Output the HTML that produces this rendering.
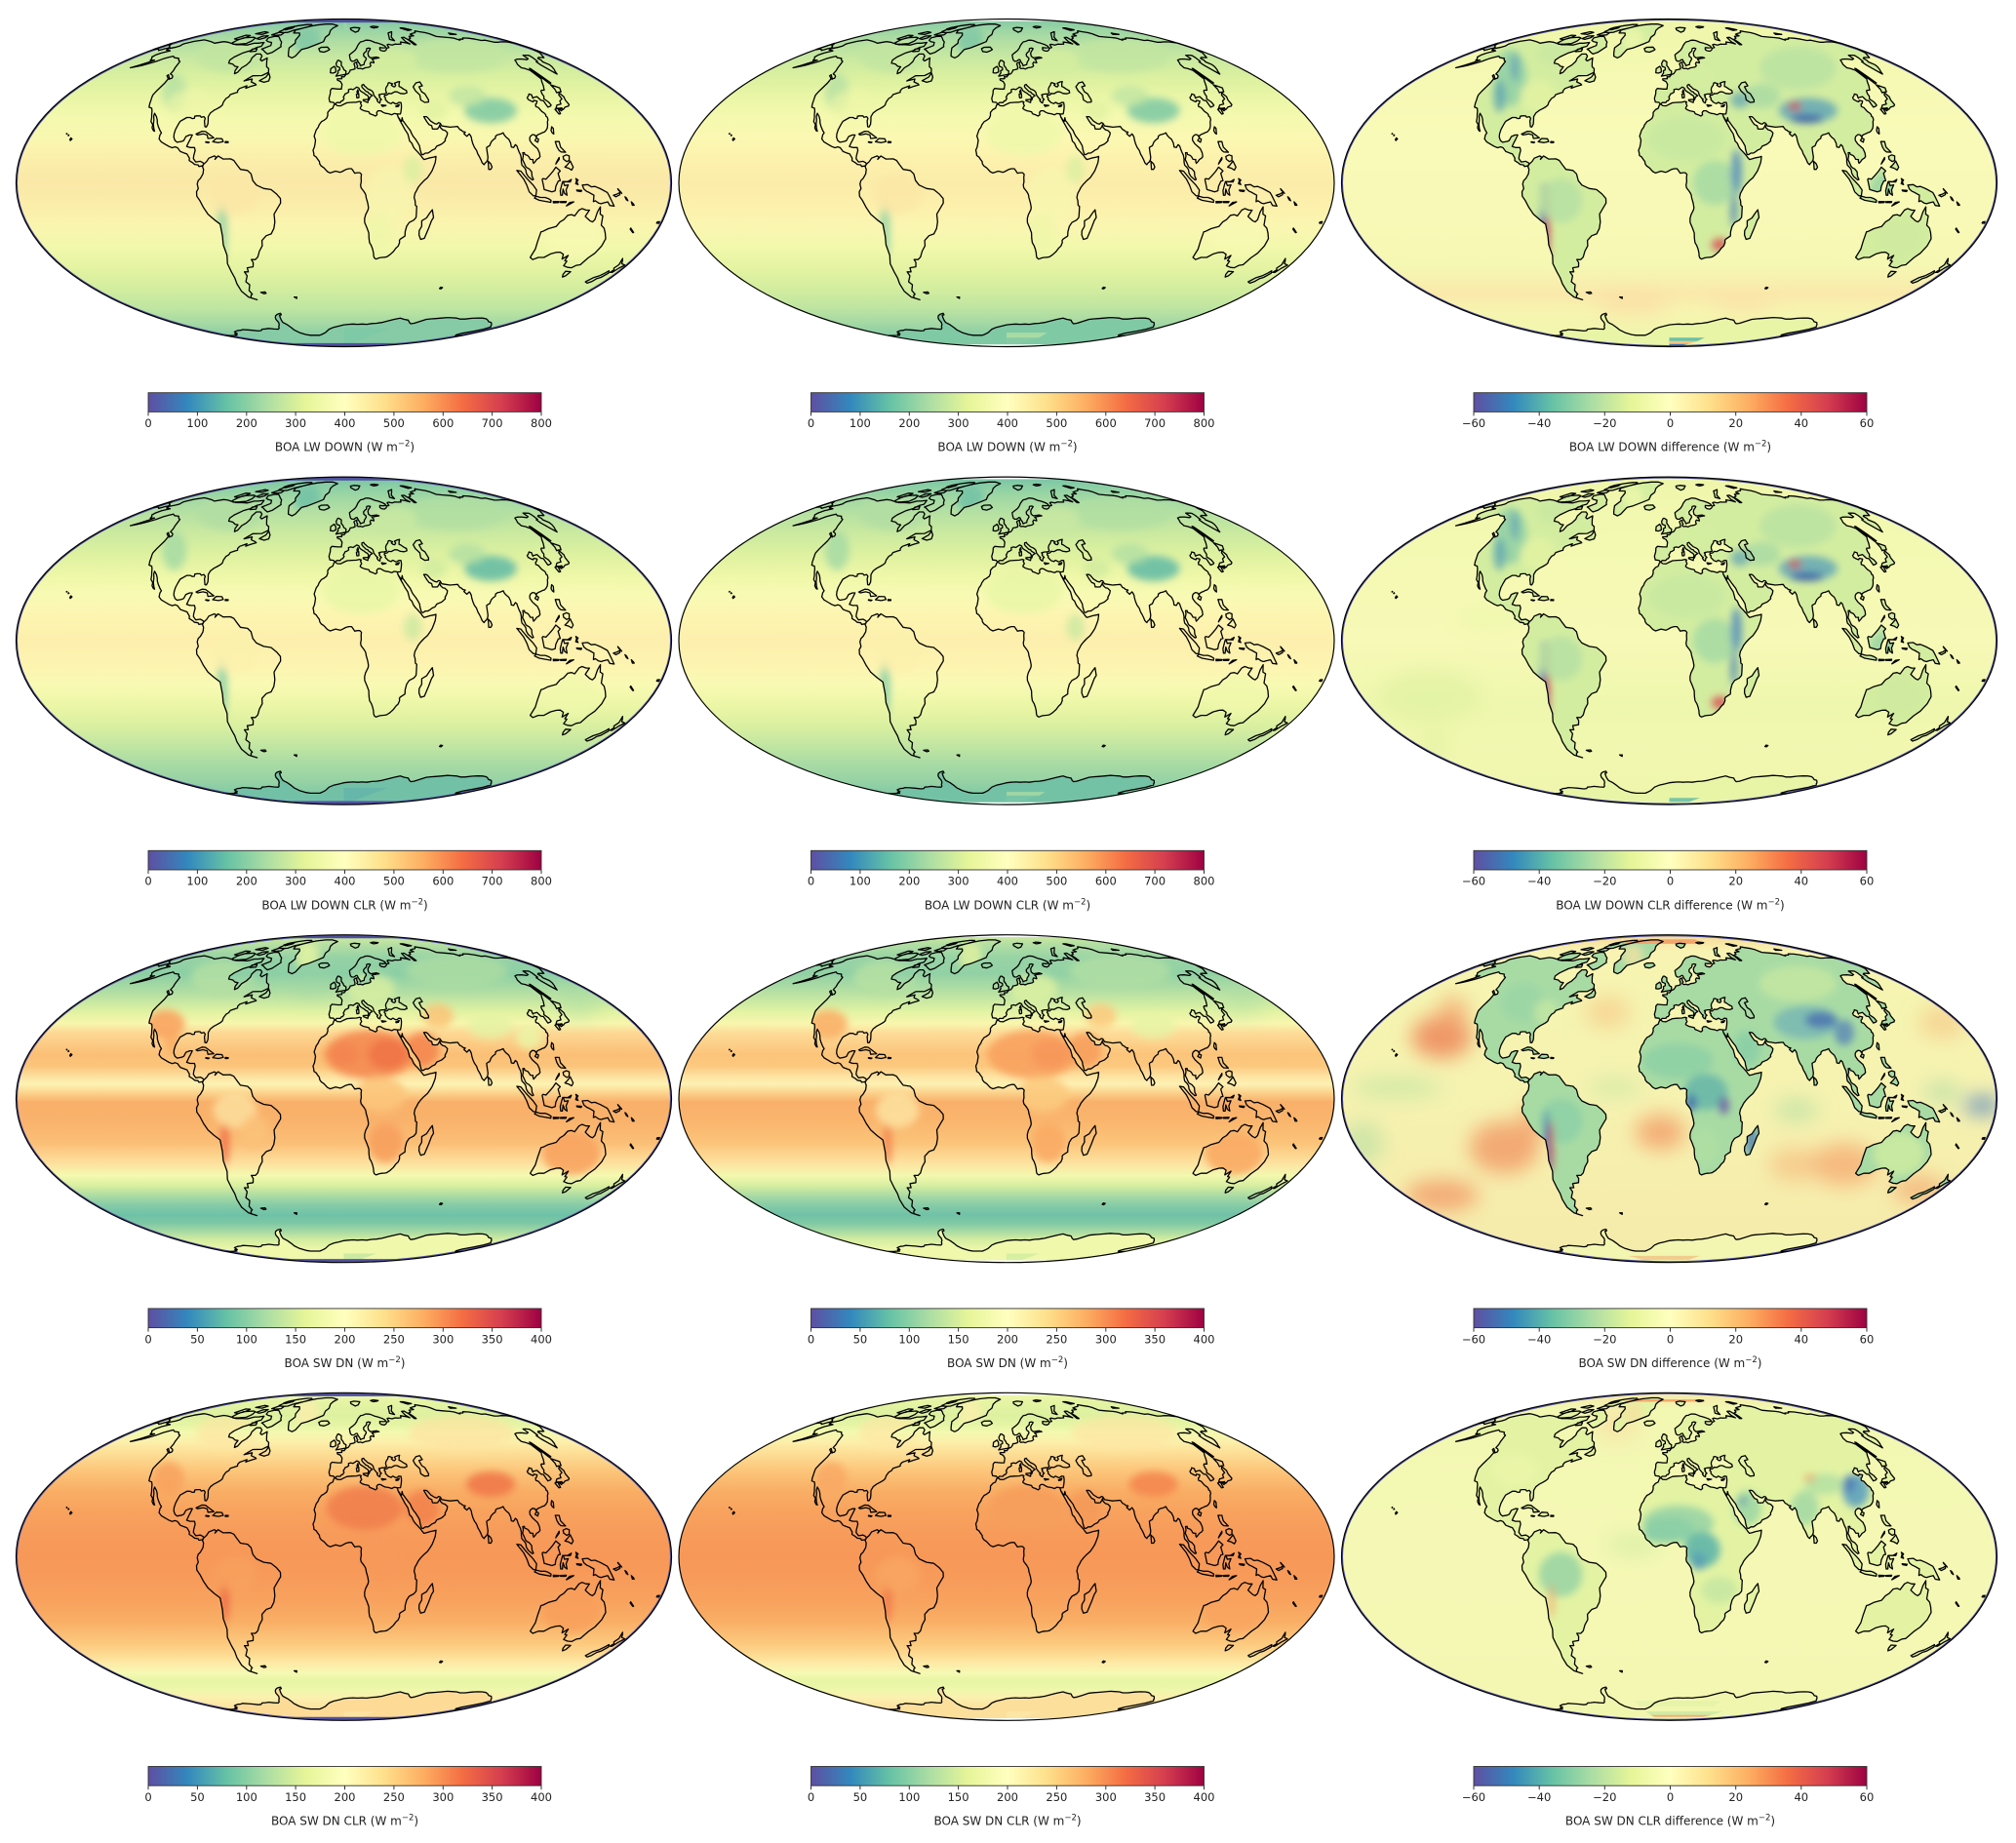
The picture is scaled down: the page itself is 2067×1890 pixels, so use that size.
<!DOCTYPE html>
<html><head><meta charset="utf-8">
<style>
html,body{margin:0;padding:0;background:#fff;}
svg{display:block;}
text{font-family:"DejaVu Sans","Liberation Sans",sans-serif;fill:#222;}
</style></head><body>
<svg id="fig" width="2067" height="1890" viewBox="0 0 2067 1890" xmlns="http://www.w3.org/2000/svg" xmlns:xlink="http://www.w3.org/1999/xlink">
<defs id="defs">
<linearGradient id="cmap" x1="0" y1="0" x2="1" y2="0">
<stop offset="0" stop-color="#5e4fa2"/><stop offset="0.1" stop-color="#3288bd"/><stop offset="0.2" stop-color="#66c2a5"/><stop offset="0.3" stop-color="#abdda4"/><stop offset="0.4" stop-color="#e6f598"/><stop offset="0.5" stop-color="#ffffbf"/><stop offset="0.6" stop-color="#fee08b"/><stop offset="0.7" stop-color="#fdae61"/><stop offset="0.8" stop-color="#f46d43"/><stop offset="0.9" stop-color="#d53e4f"/><stop offset="1" stop-color="#9e0142"/>
</linearGradient>
<clipPath id="clipE" clipPathUnits="userSpaceOnUse"><ellipse cx="0" cy="0" rx="336" ry="168"/></clipPath>
<filter id="b1" filterUnits="userSpaceOnUse" x="-400" y="-220" width="800" height="440"><feGaussianBlur stdDeviation="4"/></filter>
<filter id="b2" filterUnits="userSpaceOnUse" x="-400" y="-220" width="800" height="440"><feGaussianBlur stdDeviation="10"/></filter>
<linearGradient id="g11" x1="0" y1="0" x2="0" y2="1">
<stop offset="0" stop-color="#7fc6a6"/><stop offset="0.03" stop-color="#97d2a5"/><stop offset="0.07" stop-color="#b1dea3"/><stop offset="0.12" stop-color="#c8e8a1"/><stop offset="0.175" stop-color="#d9f0a0"/><stop offset="0.235" stop-color="#e8f5a5"/><stop offset="0.30" stop-color="#f3f9ae"/><stop offset="0.364" stop-color="#f9f7b0"/><stop offset="0.432" stop-color="#fbeeab"/><stop offset="0.5" stop-color="#fae8a7"/><stop offset="0.568" stop-color="#fbedaa"/><stop offset="0.636" stop-color="#f9f5af"/><stop offset="0.70" stop-color="#f1f8ab"/><stop offset="0.765" stop-color="#e3f3a2"/><stop offset="0.825" stop-color="#d2ed9f"/><stop offset="0.88" stop-color="#c0e6a1"/><stop offset="0.93" stop-color="#a5d9a4"/><stop offset="0.97" stop-color="#86cba5"/><stop offset="1" stop-color="#6fbea7"/>
</linearGradient>
<linearGradient id="g12" x1="0" y1="0" x2="0" y2="1">
<stop offset="0" stop-color="#82c8a5"/><stop offset="0.03" stop-color="#9ad4a4"/><stop offset="0.07" stop-color="#b3dfa3"/><stop offset="0.12" stop-color="#c9e9a1"/><stop offset="0.175" stop-color="#daf0a0"/><stop offset="0.235" stop-color="#e9f6a6"/><stop offset="0.30" stop-color="#f4f9af"/><stop offset="0.364" stop-color="#fbf8b2"/><stop offset="0.432" stop-color="#fcf1ad"/><stop offset="0.5" stop-color="#fbeca9"/><stop offset="0.568" stop-color="#fcf0ac"/><stop offset="0.636" stop-color="#faf6b1"/><stop offset="0.70" stop-color="#f1f8ab"/><stop offset="0.765" stop-color="#e3f3a2"/><stop offset="0.825" stop-color="#d2ed9f"/><stop offset="0.88" stop-color="#bfe5a1"/><stop offset="0.93" stop-color="#a3d8a4"/><stop offset="0.97" stop-color="#86cba5"/><stop offset="1" stop-color="#72c0a6"/>
</linearGradient>
<linearGradient id="g21" x1="0" y1="0" x2="0" y2="1">
<stop offset="0" stop-color="#74c2a6"/><stop offset="0.03" stop-color="#8ccfa5"/><stop offset="0.07" stop-color="#a4d9a4"/><stop offset="0.12" stop-color="#b9e2a2"/><stop offset="0.175" stop-color="#cbeaa0"/><stop offset="0.235" stop-color="#ddf1a0"/><stop offset="0.30" stop-color="#eef7a8"/><stop offset="0.364" stop-color="#f8fab4"/><stop offset="0.432" stop-color="#fdf4b0"/><stop offset="0.5" stop-color="#fdefad"/><stop offset="0.568" stop-color="#fdf3b0"/><stop offset="0.636" stop-color="#f8fab3"/><stop offset="0.70" stop-color="#ebf6a6"/><stop offset="0.765" stop-color="#d8efa0"/><stop offset="0.825" stop-color="#bfe5a2"/><stop offset="0.88" stop-color="#a7daa4"/><stop offset="0.93" stop-color="#96d2a5"/><stop offset="0.97" stop-color="#80c9a5"/><stop offset="1" stop-color="#6cbca7"/>
</linearGradient>
<linearGradient id="g31" x1="0" y1="0" x2="0" y2="1">
<stop offset="0" stop-color="#d4eea0"/><stop offset="0.03" stop-color="#b5dfa3"/><stop offset="0.07" stop-color="#96d2a5"/><stop offset="0.12" stop-color="#8ccfa5"/><stop offset="0.175" stop-color="#b1dea3"/><stop offset="0.235" stop-color="#e0f2a2"/><stop offset="0.27" stop-color="#f7f6ad"/><stop offset="0.30" stop-color="#fdd894"/><stop offset="0.364" stop-color="#fbbf76"/><stop offset="0.40" stop-color="#fbc47a"/><stop offset="0.432" stop-color="#fde1a0"/><stop offset="0.455" stop-color="#fdf3b3"/><stop offset="0.48" stop-color="#fcd690"/><stop offset="0.51" stop-color="#f9b06a"/><stop offset="0.568" stop-color="#f9b26b"/><stop offset="0.636" stop-color="#fbbf77"/><stop offset="0.70" stop-color="#fde2a0"/><stop offset="0.735" stop-color="#f4f9b0"/><stop offset="0.765" stop-color="#d9efa0"/><stop offset="0.80" stop-color="#a6d9a4"/><stop offset="0.825" stop-color="#85cca6"/><stop offset="0.855" stop-color="#6ec2a7"/><stop offset="0.88" stop-color="#7ec8a5"/><stop offset="0.905" stop-color="#a6d9a4"/><stop offset="0.93" stop-color="#d2eca0"/><stop offset="0.96" stop-color="#ecf7aa"/><stop offset="1" stop-color="#f2f8ae"/>
</linearGradient>
<linearGradient id="g32" x1="0" y1="0" x2="0" y2="1">
<stop offset="0" stop-color="#d0eca0"/><stop offset="0.03" stop-color="#b2dea3"/><stop offset="0.07" stop-color="#98d3a5"/><stop offset="0.12" stop-color="#92d1a5"/><stop offset="0.175" stop-color="#b6e0a3"/><stop offset="0.235" stop-color="#e2f3a3"/><stop offset="0.27" stop-color="#f8f6ae"/><stop offset="0.30" stop-color="#fddc98"/><stop offset="0.364" stop-color="#fcc47b"/><stop offset="0.40" stop-color="#fcc87e"/><stop offset="0.432" stop-color="#fde3a2"/><stop offset="0.455" stop-color="#fdf1b2"/><stop offset="0.48" stop-color="#fcd48e"/><stop offset="0.51" stop-color="#f9b06a"/><stop offset="0.568" stop-color="#fab56d"/><stop offset="0.636" stop-color="#fbc47a"/><stop offset="0.70" stop-color="#fde4a2"/><stop offset="0.735" stop-color="#f2f8ae"/><stop offset="0.765" stop-color="#d6eea0"/><stop offset="0.80" stop-color="#a4d8a4"/><stop offset="0.825" stop-color="#86cca6"/><stop offset="0.855" stop-color="#70c2a7"/><stop offset="0.88" stop-color="#80c9a5"/><stop offset="0.905" stop-color="#a8daa4"/><stop offset="0.93" stop-color="#d4eda0"/><stop offset="0.96" stop-color="#edf7ab"/><stop offset="1" stop-color="#f2f8ae"/>
</linearGradient>
<linearGradient id="g41" x1="0" y1="0" x2="0" y2="1">
<stop offset="0" stop-color="#f0f8ae"/><stop offset="0.03" stop-color="#e4f4a3"/><stop offset="0.07" stop-color="#dcf1a0"/><stop offset="0.10" stop-color="#e6f5a5"/><stop offset="0.12" stop-color="#f2f9b0"/><stop offset="0.15" stop-color="#fbf0ab"/><stop offset="0.175" stop-color="#fde39b"/><stop offset="0.235" stop-color="#fcc77c"/><stop offset="0.30" stop-color="#f9ae65"/><stop offset="0.364" stop-color="#f8a25e"/><stop offset="0.432" stop-color="#f79b5a"/><stop offset="0.5" stop-color="#f79858"/><stop offset="0.568" stop-color="#f79b5a"/><stop offset="0.636" stop-color="#f8a25e"/><stop offset="0.70" stop-color="#f9af66"/><stop offset="0.765" stop-color="#fcc97e"/><stop offset="0.80" stop-color="#fddb93"/><stop offset="0.825" stop-color="#fdeaa6"/><stop offset="0.855" stop-color="#f6f9b3"/><stop offset="0.88" stop-color="#e6f5a4"/><stop offset="0.905" stop-color="#eef7aa"/><stop offset="0.93" stop-color="#fbf1ae"/><stop offset="0.96" stop-color="#fde2a0"/><stop offset="1" stop-color="#fcd898"/>
</linearGradient>
<linearGradient id="g13" x1="0" y1="0" x2="0" y2="1">
<stop offset="0" stop-color="#eef6ab"/><stop offset="0.1" stop-color="#f2f8ae"/><stop offset="0.2" stop-color="#f6f9b4"/><stop offset="0.4" stop-color="#f9fab8"/><stop offset="0.5" stop-color="#f9f9b7"/><stop offset="0.6" stop-color="#f8f9b6"/><stop offset="0.75" stop-color="#f5f8b3"/><stop offset="0.84" stop-color="#fae9aa"/><stop offset="0.9" stop-color="#f6f5b0"/><stop offset="1" stop-color="#eef6ab"/>
</linearGradient>
<linearGradient id="g23" x1="0" y1="0" x2="0" y2="1">
<stop offset="0" stop-color="#eef6ab"/><stop offset="0.2" stop-color="#f4f9b2"/><stop offset="0.5" stop-color="#f7f9b6"/><stop offset="0.7" stop-color="#eef7ad"/><stop offset="0.85" stop-color="#f2f7b0"/><stop offset="1" stop-color="#eef6ab"/>
</linearGradient>
<linearGradient id="g33" x1="0" y1="0" x2="0" y2="1">
<stop offset="0" stop-color="#f6d99a"/><stop offset="0.05" stop-color="#f8f3b2"/><stop offset="0.2" stop-color="#f5f4b0"/><stop offset="0.5" stop-color="#f6f2b0"/><stop offset="0.8" stop-color="#f6edac"/><stop offset="1" stop-color="#f4eaaa"/>
</linearGradient>
<linearGradient id="g43" x1="0" y1="0" x2="0" y2="1">
<stop offset="0" stop-color="#f6e8a8"/><stop offset="0.05" stop-color="#f2f7b2"/><stop offset="0.5" stop-color="#f4f8b4"/><stop offset="0.95" stop-color="#f4f7b2"/><stop offset="1" stop-color="#f6e0a0"/>
</linearGradient>
</defs>
<rect x="0" y="0" width="2067" height="1890" fill="#fff"/>

<!-- Row 1 -->
<g transform="translate(352.5,187.5)"><g clip-path="url(#clipE)"><rect x="-340" y="-168" width="680" height="336" fill="url(#g11)"/><g id="d11"></g></g><g id="c11"></g><ellipse rx="336" ry="168" fill="none" stroke="#000" stroke-width="1.2"/></g>
<g transform="translate(1032,187.5)"><g clip-path="url(#clipE)"><rect x="-340" y="-168" width="680" height="336" fill="url(#g12)"/><g id="d12"></g></g><g id="c12"></g><ellipse rx="336" ry="168" fill="none" stroke="#000" stroke-width="1.2"/></g>
<g transform="translate(1711.5,187.5)"><g clip-path="url(#clipE)"><rect x="-340" y="-168" width="680" height="336" fill="url(#g13)"/><g id="d13"></g></g><g id="c13"></g><ellipse rx="336" ry="168" fill="none" stroke="#000" stroke-width="1.2"/></g>
<!-- Row 2 -->
<g transform="translate(352.5,657.1)"><g clip-path="url(#clipE)"><rect x="-340" y="-168" width="680" height="336" fill="url(#g21)"/><g id="d21"></g></g><g id="c21"></g><ellipse rx="336" ry="168" fill="none" stroke="#000" stroke-width="1.2"/></g>
<g transform="translate(1032,657.1)"><g clip-path="url(#clipE)"><rect x="-340" y="-168" width="680" height="336" fill="url(#g21)"/><g id="d22"></g></g><g id="c22"></g><ellipse rx="336" ry="168" fill="none" stroke="#000" stroke-width="1.2"/></g>
<g transform="translate(1711.5,657.1)"><g clip-path="url(#clipE)"><rect x="-340" y="-168" width="680" height="336" fill="url(#g23)"/><g id="d23"></g></g><g id="c23"></g><ellipse rx="336" ry="168" fill="none" stroke="#000" stroke-width="1.2"/></g>
<!-- Row 3 -->
<g transform="translate(352.5,1126.7)"><g clip-path="url(#clipE)"><rect x="-340" y="-168" width="680" height="336" fill="url(#g31)"/><g id="d31"></g></g><g id="c31"></g><ellipse rx="336" ry="168" fill="none" stroke="#000" stroke-width="1.2"/></g>
<g transform="translate(1032,1126.7)"><g clip-path="url(#clipE)"><rect x="-340" y="-168" width="680" height="336" fill="url(#g32)"/><g id="d32"></g></g><g id="c32"></g><ellipse rx="336" ry="168" fill="none" stroke="#000" stroke-width="1.2"/></g>
<g transform="translate(1711.5,1126.7)"><g clip-path="url(#clipE)"><rect x="-340" y="-168" width="680" height="336" fill="url(#g33)"/><g id="d33"></g></g><g id="c33"></g><ellipse rx="336" ry="168" fill="none" stroke="#000" stroke-width="1.2"/></g>
<!-- Row 4 -->
<g transform="translate(352.5,1596.3)"><g clip-path="url(#clipE)"><rect x="-340" y="-168" width="680" height="336" fill="url(#g41)"/><g id="d41"></g></g><g id="c41"></g><ellipse rx="336" ry="168" fill="none" stroke="#000" stroke-width="1.2"/></g>
<g transform="translate(1032,1596.3)"><g clip-path="url(#clipE)"><rect x="-340" y="-168" width="680" height="336" fill="url(#g41)"/><g id="d42"></g></g><g id="c42"></g><ellipse rx="336" ry="168" fill="none" stroke="#000" stroke-width="1.2"/></g>
<g transform="translate(1711.5,1596.3)"><g clip-path="url(#clipE)"><rect x="-340" y="-168" width="680" height="336" fill="url(#g43)"/><g id="d43"></g></g><g id="c43"></g><ellipse rx="336" ry="168" fill="none" stroke="#000" stroke-width="1.2"/></g>

<!-- Colorbars -->
<g fill="url(#cmap)" stroke="#333" stroke-width="0.9">
<rect x="152" y="402.7" width="403" height="19.7"/><rect x="831.5" y="402.7" width="403" height="19.7"/><rect x="1511" y="402.7" width="403" height="19.7"/>
<rect x="152" y="872.3" width="403" height="19.7"/><rect x="831.5" y="872.3" width="403" height="19.7"/><rect x="1511" y="872.3" width="403" height="19.7"/>
<rect x="152" y="1341.9" width="403" height="19.7"/><rect x="831.5" y="1341.9" width="403" height="19.7"/><rect x="1511" y="1341.9" width="403" height="19.7"/>
<rect x="152" y="1811.5" width="403" height="19.7"/><rect x="831.5" y="1811.5" width="403" height="19.7"/><rect x="1511" y="1811.5" width="403" height="19.7"/>
</g>
<g stroke="#333" stroke-width="1" fill="none">
<path d="M152 422.4v4M202.4 422.4v4M252.8 422.4v4M303.1 422.4v4M353.5 422.4v4M403.9 422.4v4M454.3 422.4v4M504.6 422.4v4M555 422.4v4 M831.5 422.4v4M881.9 422.4v4M932.3 422.4v4M982.6 422.4v4M1033 422.4v4M1083.4 422.4v4M1133.8 422.4v4M1184.1 422.4v4M1234.5 422.4v4 M1511 422.4v4M1578.2 422.4v4M1645.3 422.4v4M1712.5 422.4v4M1779.7 422.4v4M1846.8 422.4v4M1914 422.4v4"/>
<path d="M152 892v4M202.4 892v4M252.8 892v4M303.1 892v4M353.5 892v4M403.9 892v4M454.3 892v4M504.6 892v4M555 892v4 M831.5 892v4M881.9 892v4M932.3 892v4M982.6 892v4M1033 892v4M1083.4 892v4M1133.8 892v4M1184.1 892v4M1234.5 892v4 M1511 892v4M1578.2 892v4M1645.3 892v4M1712.5 892v4M1779.7 892v4M1846.8 892v4M1914 892v4"/>
<path d="M152 1361.6v4M202.4 1361.6v4M252.8 1361.6v4M303.1 1361.6v4M353.5 1361.6v4M403.9 1361.6v4M454.3 1361.6v4M504.6 1361.6v4M555 1361.6v4 M831.5 1361.6v4M881.9 1361.6v4M932.3 1361.6v4M982.6 1361.6v4M1033 1361.6v4M1083.4 1361.6v4M1133.8 1361.6v4M1184.1 1361.6v4M1234.5 1361.6v4 M1511 1361.6v4M1578.2 1361.6v4M1645.3 1361.6v4M1712.5 1361.6v4M1779.7 1361.6v4M1846.8 1361.6v4M1914 1361.6v4"/>
<path d="M152 1831.2v4M202.4 1831.2v4M252.8 1831.2v4M303.1 1831.2v4M353.5 1831.2v4M403.9 1831.2v4M454.3 1831.2v4M504.6 1831.2v4M555 1831.2v4 M831.5 1831.2v4M881.9 1831.2v4M932.3 1831.2v4M982.6 1831.2v4M1033 1831.2v4M1083.4 1831.2v4M1133.8 1831.2v4M1184.1 1831.2v4M1234.5 1831.2v4 M1511 1831.2v4M1578.2 1831.2v4M1645.3 1831.2v4M1712.5 1831.2v4M1779.7 1831.2v4M1846.8 1831.2v4M1914 1831.2v4"/>
</g>

<!-- Tick labels -->
<g font-size="11.5" text-anchor="middle">
<text x="152" y="438.1">0</text><text x="202.4" y="438.1">100</text><text x="252.8" y="438.1">200</text><text x="303.1" y="438.1">300</text><text x="353.5" y="438.1">400</text><text x="403.9" y="438.1">500</text><text x="454.3" y="438.1">600</text><text x="504.6" y="438.1">700</text><text x="555" y="438.1">800</text>
<text x="831.5" y="438.1">0</text><text x="881.9" y="438.1">100</text><text x="932.3" y="438.1">200</text><text x="982.6" y="438.1">300</text><text x="1033" y="438.1">400</text><text x="1083.4" y="438.1">500</text><text x="1133.8" y="438.1">600</text><text x="1184.1" y="438.1">700</text><text x="1234.5" y="438.1">800</text>
<text x="1511" y="438.1">−60</text><text x="1578.2" y="438.1">−40</text><text x="1645.3" y="438.1">−20</text><text x="1712.5" y="438.1">0</text><text x="1779.7" y="438.1">20</text><text x="1846.8" y="438.1">40</text><text x="1914" y="438.1">60</text>
<text x="152" y="907.7">0</text><text x="202.4" y="907.7">100</text><text x="252.8" y="907.7">200</text><text x="303.1" y="907.7">300</text><text x="353.5" y="907.7">400</text><text x="403.9" y="907.7">500</text><text x="454.3" y="907.7">600</text><text x="504.6" y="907.7">700</text><text x="555" y="907.7">800</text>
<text x="831.5" y="907.7">0</text><text x="881.9" y="907.7">100</text><text x="932.3" y="907.7">200</text><text x="982.6" y="907.7">300</text><text x="1033" y="907.7">400</text><text x="1083.4" y="907.7">500</text><text x="1133.8" y="907.7">600</text><text x="1184.1" y="907.7">700</text><text x="1234.5" y="907.7">800</text>
<text x="1511" y="907.7">−60</text><text x="1578.2" y="907.7">−40</text><text x="1645.3" y="907.7">−20</text><text x="1712.5" y="907.7">0</text><text x="1779.7" y="907.7">20</text><text x="1846.8" y="907.7">40</text><text x="1914" y="907.7">60</text>
<text x="152" y="1377.3">0</text><text x="202.4" y="1377.3">50</text><text x="252.8" y="1377.3">100</text><text x="303.1" y="1377.3">150</text><text x="353.5" y="1377.3">200</text><text x="403.9" y="1377.3">250</text><text x="454.3" y="1377.3">300</text><text x="504.6" y="1377.3">350</text><text x="555" y="1377.3">400</text>
<text x="831.5" y="1377.3">0</text><text x="881.9" y="1377.3">50</text><text x="932.3" y="1377.3">100</text><text x="982.6" y="1377.3">150</text><text x="1033" y="1377.3">200</text><text x="1083.4" y="1377.3">250</text><text x="1133.8" y="1377.3">300</text><text x="1184.1" y="1377.3">350</text><text x="1234.5" y="1377.3">400</text>
<text x="1511" y="1377.3">−60</text><text x="1578.2" y="1377.3">−40</text><text x="1645.3" y="1377.3">−20</text><text x="1712.5" y="1377.3">0</text><text x="1779.7" y="1377.3">20</text><text x="1846.8" y="1377.3">40</text><text x="1914" y="1377.3">60</text>
<text x="152" y="1846.9">0</text><text x="202.4" y="1846.9">50</text><text x="252.8" y="1846.9">100</text><text x="303.1" y="1846.9">150</text><text x="353.5" y="1846.9">200</text><text x="403.9" y="1846.9">250</text><text x="454.3" y="1846.9">300</text><text x="504.6" y="1846.9">350</text><text x="555" y="1846.9">400</text>
<text x="831.5" y="1846.9">0</text><text x="881.9" y="1846.9">50</text><text x="932.3" y="1846.9">100</text><text x="982.6" y="1846.9">150</text><text x="1033" y="1846.9">200</text><text x="1083.4" y="1846.9">250</text><text x="1133.8" y="1846.9">300</text><text x="1184.1" y="1846.9">350</text><text x="1234.5" y="1846.9">400</text>
<text x="1511" y="1846.9">−60</text><text x="1578.2" y="1846.9">−40</text><text x="1645.3" y="1846.9">−20</text><text x="1712.5" y="1846.9">0</text><text x="1779.7" y="1846.9">20</text><text x="1846.8" y="1846.9">40</text><text x="1914" y="1846.9">60</text>
</g>

<!-- Axis labels -->
<g font-size="12" text-anchor="middle">
<text x="353.5" y="462.7">BOA LW DOWN (W m<tspan dy="-5" font-size="8.5">−2</tspan><tspan dy="5">)</tspan></text>
<text x="1033" y="462.7">BOA LW DOWN (W m<tspan dy="-5" font-size="8.5">−2</tspan><tspan dy="5">)</tspan></text>
<text x="1712.5" y="462.7">BOA LW DOWN difference (W m<tspan dy="-5" font-size="8.5">−2</tspan><tspan dy="5">)</tspan></text>
<text x="353.5" y="932.3">BOA LW DOWN CLR (W m<tspan dy="-5" font-size="8.5">−2</tspan><tspan dy="5">)</tspan></text>
<text x="1033" y="932.3">BOA LW DOWN CLR (W m<tspan dy="-5" font-size="8.5">−2</tspan><tspan dy="5">)</tspan></text>
<text x="1712.5" y="932.3">BOA LW DOWN CLR difference (W m<tspan dy="-5" font-size="8.5">−2</tspan><tspan dy="5">)</tspan></text>
<text x="353.5" y="1401.9">BOA SW DN (W m<tspan dy="-5" font-size="8.5">−2</tspan><tspan dy="5">)</tspan></text>
<text x="1033" y="1401.9">BOA SW DN (W m<tspan dy="-5" font-size="8.5">−2</tspan><tspan dy="5">)</tspan></text>
<text x="1712.5" y="1401.9">BOA SW DN difference (W m<tspan dy="-5" font-size="8.5">−2</tspan><tspan dy="5">)</tspan></text>
<text x="353.5" y="1871.5">BOA SW DN CLR (W m<tspan dy="-5" font-size="8.5">−2</tspan><tspan dy="5">)</tspan></text>
<text x="1033" y="1871.5">BOA SW DN CLR (W m<tspan dy="-5" font-size="8.5">−2</tspan><tspan dy="5">)</tspan></text>
<text x="1712.5" y="1871.5">BOA SW DN CLR difference (W m<tspan dy="-5" font-size="8.5">−2</tspan><tspan dy="5">)</tspan></text>
</g>
</svg>
<script>
(function(){
var RX=336,RY=168;
function th(lat){var k=Math.PI*Math.sin(lat*Math.PI/180),lo=-Math.PI/2,hi=Math.PI/2;for(var i=0;i<40;i++){var m=(lo+hi)/2;if(2*m+Math.sin(2*m)<k)lo=m;else hi=m;}return (lo+hi)/2;}
function P(lon,lat){var t=th(lat);return [RX*lon/180*Math.cos(t),-RY*Math.sin(t)];}
function pairs(f){var a=[];for(var i=0;i<f.length;i+=2)a.push([f[i],f[i+1]]);return a;}
function pstr(poly,close){var s='';for(var i=0;i<poly.length;i++){var q=P(poly[i][0],poly[i][1]);s+=(i?'L':'M')+q[0].toFixed(1)+' '+q[1].toFixed(1);}return s+(close?'Z':'');}
function box(l1,l2,b1,b2){var a=[],n=24,i;for(i=0;i<=n;i++)a.push([l1+(l2-l1)*i/n,b1]);for(i=n;i>=0;i--)a.push([l1+(l2-l1)*i/n,b2]);return a;}

var L={
NA:[
[-166,68.8,-163,70.2,-157,71.2,-152,70.8,-145,70.1,-141,69.7,-136,69,-130,70,-124,69.6,-117,68.8,-110,68,-104,68,-98,67.8,-94,69,-90,69,-85,69.5,-82,67,-85,66.2,-87,64.3,-91,63,-94,60.5,-94.5,58.7,-92.5,57,-88.5,56.5,-85,55.3,-82.3,55,-82,53,-80.5,51.3,-79,52,-78.8,54.5,-77,56,-76.5,58,-78,60,-77.7,62.3,-74,62.3,-71,61.1,-69.5,59,-67.5,58.3,-65,60,-63,58,-61.5,56.5,-60,55,-57.5,54,-56,52,-59.5,50.3,-66,50.2,-70,47.5,-65,48.5,-64.5,47,-61,46,-60,45.5,-63.5,44.6,-66,43.8,-66,45,-67.5,44.5,-70,43.7,-70.6,42.6,-70,41.8,-71.5,41.4,-74,40.6,-74.2,39.5,-75.5,38.7,-76,37,-75.8,35.5,-76.5,34.7,-78,33.8,-79.5,33,-81,31.7,-81.4,30,-80.5,28,-80,26.5,-80.3,25.2,-81.2,25.3,-81.8,26.5,-82.7,28,-82.8,29.2,-84,30,-85.4,29.7,-86.5,30.4,-88.5,30.4,-89.6,30.2,-89.3,29.2,-90.5,29.1,-92,29.6,-94,29.6,-95.5,28.7,-97,27.8,-97.4,26,-97.8,24,-97.7,22,-97.2,20.5,-96,19,-94.5,18.2,-92,18.6,-91,19,-90.4,20.8,-88.5,21.5,-87,21.5,-87.5,19.5,-88,18.2,-88.5,16.3,-86.5,15.8,-84,15.8,-83.3,14.5,-83.6,12,-83.5,10.8,-82,9.3,-79.5,9.6,-78,9,-77.4,8.4,-78.2,7.5,-80,7.3,-80.5,8,-82.5,8.2,-83.7,9,-85.7,9.9,-85.8,11,-87.5,12.9,-89.5,13.4,-91.5,14,-93.5,15.7,-95,16.1,-96.5,15.7,-98.5,16.3,-101,17.3,-103.5,18.3,-105.3,19.7,-105.6,21.5,-105.2,22.5,-106.5,23.5,-108.5,25.4,-110,27,-111,28.5,-112.5,30,-114.8,31.6,-114.3,30.2,-113,28.5,-112,26.5,-110.6,24.5,-109.5,23.2,-110.3,23.5,-111.8,24.8,-112.3,26.3,-114.2,27.7,-115,29.5,-116.3,31.3,-117.1,32.6,-118.5,34,-120.6,34.5,-121.8,36.3,-122.5,37.6,-123.7,39.5,-124.3,40.5,-124.2,42.5,-124,46.3,-124.7,48.4,-122.8,48.9,-123.5,49.8,-125,50.5,-127.5,51.2,-128.5,53,-130.2,54.5,-131.7,56,-134,58,-136.5,58.6,-139.5,59.8,-144,60.1,-147.5,61,-150,60.3,-151.8,59.5,-153.5,58,-156.5,56.7,-159,55.7,-162,55,-164.8,54.5,-161.5,55.9,-158.5,57.5,-157,58.8,-160,58.6,-162,59.7,-164.5,60.5,-165.3,61.7,-164.5,63,-161,64.2,-163.5,64.5,-166,64.6,-168,65.6,-164.5,66.5,-163.7,67.2,-166,68.3],
[-62,66.8,-65,63.2,-68,62.3,-72,63.5,-75,64.5,-78,65.2,-73.5,67.5,-77,69.5,-82,70,-86,70.8,-89,72.5,-85,73.5,-80,73.6,-75,72.3,-71,71,-67,69.8,-64,67.8],
[-118,69.2,-114,68.3,-108,68.5,-102,68.8,-101,70.5,-104,72.5,-108,73,-113,72.8,-118,72.5,-119,71],
[-125.5,71.8,-120,71.3,-116.5,72.5,-117.5,74.2,-124,74.4],
[-92,77,-84,76.3,-78,76.5,-75,78.5,-68,80,-62,82,-68,83,-78,83,-88,82,-95,80.5],
[-92,74.6,-86,74.3,-80,74.6,-82,76.3,-90,76.6],
[-101,72,-96,71.5,-93,72.5,-94,74,-100,73.8],
[-117,75.5,-106,75,-105,76.5,-112,77],
[-95,79,-90,78.5,-86,80,-90,81.3,-95,80.3],
[-86,63.7,-81,64,-83,65.5,-87,65.2],
[-59.3,47.6,-56,49.5,-55.5,51.6,-53,49.5,-52.7,47.5,-55.5,46.8],
[-128.3,50.8,-123.5,48.4,-124.7,48.6,-128.3,50.2],
[-85,21.9,-82,23.2,-80,23.1,-77,21.6,-74.2,20.2,-77.5,19.9,-78.5,21.5,-81,22,-84,21.5],
[-74.4,18.4,-72.8,19.9,-69.5,19.8,-68.4,18.5,-71,18],
[-78.3,18.4,-76.3,18.2,-76.8,17.9,-78.3,18.2],
[-67.2,18.5,-65.6,18.4,-65.6,18,-67.2,18],
[-155.9,20.2,-155,19.7,-155.5,19,-156,19.4],
[-158.2,21.6,-157.7,21.3,-158.1,21.2],
[-159.7,22.2,-159.3,22.1,-159.5,21.9]
],
GL:[
[-73,78.2,-68,76,-60,76,-56,74.5,-54,71,-51,69,-53,66,-50,63,-48,61,-44,60,-42,61,-40,65,-35,66,-27,68.5,-22,70,-22,73,-19,75,-20,78,-18,80,-12,82,-25,83.5,-40,83.5,-55,82.5,-62,81.5,-68,80],
[-24,65.5,-22,66.4,-16,66.5,-13.5,65,-15,64.3,-18,63.4,-22,63.8]
],
SA:[
[-77.5,8.3,-76,9.5,-75,11,-72,12,-71,11.5,-71.5,10.5,-70,12,-67,10.6,-63,10.7,-61,10,-59,8,-57,6,-53,5.5,-51,4,-50,1,-48,-1,-44,-2.5,-40,-3,-37,-5,-35,-7,-35,-9,-37,-11.5,-39,-14,-39,-17.5,-40,-20.5,-42,-23,-45,-23.8,-48,-26,-48.5,-28.5,-51,-31,-53,-33.8,-55,-35,-57.5,-35,-57,-36.5,-58,-38.5,-62,-39,-62.5,-41,-65,-41,-64.5,-43,-67.5,-46,-66,-47.5,-69,-50.5,-68.5,-52.5,-70,-53,-71.5,-54.5,-68,-55.5,-73,-54,-75,-51,-74.5,-47,-73.5,-44,-73.5,-41,-73.5,-37,-71.5,-33,-71.5,-28,-70.5,-24,-70.2,-18.5,-73,-16.5,-76,-14,-78,-11,-79.5,-8,-81,-6,-81,-4,-80,-2.5,-80.5,-0.5,-80,1,-78.8,2,-77.5,4,-77.3,6,-78,7.2],
[-61.3,-51.5,-58,-51.3,-57.8,-52,-59.5,-52.3],
[-38,-54,-36,-54,-36.5,-54.8]
],
AF:[
[-5.8,35.8,-5.3,35.9,-4,35.2,-2,35.1,0,35.9,2,36.6,5,36.8,8,36.9,10,37.3,11,37,10.5,36.4,11.1,35.2,10.3,34.4,10.1,33.8,11.2,33.2,12.5,32.8,15.2,32.3,15.7,31.4,17.5,30.9,19,30.3,20.1,30.9,20,32,21,32.8,22.5,32.8,24,32,25.2,31.6,27,31.4,29,30.9,30.5,31.5,32.3,31.3,32.6,29.8,33.5,27.8,34.5,26,35.5,24,36.8,22,37.2,20,37.4,18.7,38.5,17.8,39.3,15.9,40.2,14.8,41.2,13.9,42.4,12.7,43.2,11.9,43.5,11.4,44.5,10.4,46,10.7,48,11.2,50,11.5,51.3,11.8,51,10.4,50.6,9,49.5,7,48.6,5.4,47.5,4,46,2.3,44,0.9,42.2,-0.6,40.9,-2,40.1,-3.3,39.2,-4.7,38.8,-6.5,39.4,-8,39.7,-10,40.5,-10.5,40.6,-14,40.6,-15.5,39.5,-16.7,37,-17.8,35.8,-19.5,35.3,-22,35.5,-24,33,-25.4,32.6,-26,32.9,-27,32.4,-28.6,31.2,-29.6,30,-31.2,28.2,-32.7,26.4,-33.7,25.2,-33.9,23.5,-34,22,-34.2,20,-34.8,18.8,-34.2,18.3,-33.2,18,-31.8,17.3,-30,16.4,-28.5,15.2,-27,14.7,-25,14.4,-22.5,13.2,-20.2,11.8,-17.8,11.7,-16,12.2,-14.3,13.5,-12,13.7,-11,13.2,-9,12.3,-6.5,12.2,-5.8,11.9,-5,11.1,-3.9,9.5,-2.2,9.2,-1,9.6,0.5,9.5,2.5,9.7,3.8,8.8,4.5,7.5,4.5,6,4.3,5,5.5,4.3,6.3,2.7,6.3,1,5.9,-1,5,-2,4.7,-4.5,5.2,-7.5,4.4,-9,5,-11,6.7,-12.5,7.5,-13.3,8.5,-13.5,9.5,-14.7,10.7,-15.3,11.5,-16.6,12.2,-16.8,13.2,-17.2,14.6,-16.5,16,-16.3,17.5,-16.1,19,-16.5,20,-17,21,-16.5,22.3,-16,23.8,-15,25,-14.5,26.2,-13.2,27.7,-12,28.2,-10.3,29.2,-9.7,30.5,-9.8,32,-8.5,33.3,-6.8,34,-6.2,35.5],
[49.3,-12,50.4,-15.5,49.5,-17,48.5,-20.5,47,-25,45,-25.5,43.6,-23.5,43.3,-21.5,44.4,-19.5,44,-17,46.5,-15.7,48,-13.5]
],
EU:[
[-5.6,36,-6.5,36.8,-8.8,37,-9.5,38.7,-8.9,41,-8.9,42.8,-8,43.7,-4,43.4,-1.6,43.4,-1.2,45.8,-2.3,47.2,-4.5,47.9,-4.7,48.6,-1.4,48.7,-1.6,49.7,0.2,49.6,1.6,50.9,3.2,51.3,4.5,52.5,4.8,53.2,6.8,53.5,8.6,53.9,8.6,55.4,8.1,56.6,8.6,57.1,10.5,57.6,10.3,56.2,10.9,55.4,10,54.6,11,54,13,54.2,14.3,53.8,16.5,54.5,18.6,54.7,19.9,54.9,21.2,55.5,21,56.8,22,57.6,24.3,57.2,24.4,58.4,23.5,59.2,26,59.6,28.5,59.9,30,60,28,60.5,25.5,60.3,22.8,60,21.4,61,21.6,62.7,22.8,63.8,24.7,65,25.4,65.6,24,65.9,22,65.6,20.8,64,19,63.2,17.5,62.3,17.3,61,18.8,60,18.8,59.3,16.7,57.5,16,56.2,14.5,56,13,55.5,12.8,56.5,11.8,57.6,11.1,59,10.2,59,8.5,58.2,6.6,58.1,5.6,58.8,5.2,60.3,5,61.8,6.5,62.6,8.5,63.5,10.5,64.5,12.5,66,14,67.5,15.5,68.5,18,69.8,21,70.2,24,70.9,26.5,71,29,70.8,31,70.2,33,69.5,36,69,39.5,68,41,67.1,41,66.2,38,66,35,66.2,34,65,35,64.3,37.5,64,39.5,64.6,41.5,65.8,44,66.2,44.2,68,46,68.3,49,67.8,53,68.4,55,68.3,59,68.4,61,69.8,66,69.2,68.5,68.5,67,70,68.7,72.8,72,72.9,72.7,71,72,68,74,68,74,70,73.5,71.5,78,72.3,80,73.6,87,74,86.5,75.1,92,75.8,98,76.3,104,77.6,107,77,112,76.3,113.5,75.5,113,73.5,119,73.1,126,72.7,129,72.3,130,71,132,71.6,136,71.6,140,72.5,146,72.3,150,71.6,153,70.8,158,71,161,69.6,165,69.6,170,69.9,175,69.8,180,69.1,180,65.5,178.5,64.6,177,63,174,61.8,170.5,60.2,166,60.3,164,59.8,163.3,58.5,162,57.8,163,56.2,162,55,160,53.5,158.3,52.5,156.7,51.1,156,53,155.8,56,156.8,57.8,158.5,58,161,60.3,162,61.5,160,61.6,157,61.6,155,59.5,152.5,59,149,59.4,145,59.3,142,58.8,140.5,57.8,138,56.3,137,54.5,139,54,140.8,53,140.5,51.3,140.2,48.5,138.5,47.3,136,45,133.5,42.8,131.5,42.8,130.7,42.3,129.7,41,129.4,39.8,128,38.5,129.3,37,129.4,35.5,128.5,35,126.4,34.5,126.5,36,126.7,37.6,125.3,37.8,124.8,39.6,122,39.2,121.3,38.8,121.7,39.7,122.3,40.5,121,40.9,119.5,39.9,118,39.2,117.6,38.3,118.8,37.4,119.7,37.1,120.8,37.8,122.5,37.4,121,36.3,120,35.9,119.2,34.8,120.3,34.3,120.8,32.5,121.8,31.5,121.9,30.8,121.5,30.3,122,29.8,121.5,28.5,120.6,27.7,119.6,26,118.5,24.6,117.2,23.6,116,22.9,114.3,22.5,113.5,22.2,112,21.8,110.6,21.2,110.2,20.4,109.7,21.5,108.5,21.7,107,21,106.2,20.2,105.8,19,106.6,17.4,107.8,16.2,108.8,15.3,109.3,13.4,109.2,11.7,108.4,11,107,10.4,106.2,9.6,105,8.7,104.8,9.6,105,10.4,103.5,10.5,103,11.5,102.4,12.2,100.9,12.7,100.9,13.5,100,13.4,99.9,12,99.2,10.3,99.7,9.2,100.4,7.3,101,6.8,102.2,6.2,103.4,4.9,103.5,2.9,104.2,1.5,103.5,1.3,102.2,2.2,101.3,2.9,100.4,4.3,100.3,5.8,99.7,6.7,98.4,7.9,98.3,9.3,98.6,10.8,98.5,12.5,98.1,13.6,97.8,14.9,97.6,16.5,96.9,17.1,95.5,15.8,94.3,16,94.5,17.8,94,19.5,92.9,20.5,92.2,21.4,91.9,22.5,90.5,22,89.5,21.8,88.3,21.6,87,21,86.5,20,85,19.3,83.6,18.3,82.2,16.6,81.3,16.3,80.3,15.8,80.2,13.5,80.2,11.5,79.8,10.3,79,9.3,78.3,8.9,77.5,8.1,76.6,8.9,76,10.5,75.4,11.8,74.8,12.8,74.4,14.5,73.5,15.9,73,17.5,72.8,19.2,72.9,20.5,72.6,21.4,72.2,22,70.5,20.9,69.2,22.1,70.2,22.8,68.8,23.1,68.2,23.7,67.4,24,66.6,25.4,64.5,25.3,62,25.1,59.5,25.4,57.4,25.7,56.8,27,56,27.2,54.7,26.5,53.5,26.8,51.5,27.9,50.2,29.6,49.5,30,48,30,48.5,29,49.2,27.6,50.1,26.3,51.5,25.8,51.6,24.3,53,24.2,54.5,24.3,55.8,25.4,56.3,26.2,56.4,24.9,57.4,23.9,58.7,23.6,59.8,22.5,59.2,21.3,58.5,20.4,57.7,19.5,57.7,18.9,56.3,17.9,55.2,17.3,54.2,17,52.4,16.4,51.2,15.2,49.5,14.6,48.3,13.9,47,13.3,45.6,13.3,44.2,12.6,43.4,12.7,43.2,13.3,42.8,15,42.7,16.5,42,17.8,40.9,19.5,39.7,20.9,39.1,22,38.5,23.6,37.4,25,36.6,26,35.6,27.5,35,28.1,34.9,29.5,34.2,27.8,33.6,28.3,32.6,29.9,32.3,31.2,34.3,31.3,34.9,32.5,35.5,33.9,35.9,35.2,36,36.7,34.7,36.8,33.5,36.2,32.5,36.1,31,36.8,30.6,36.7,29.7,36.2,28,36.7,27.4,37.3,26.5,38.2,26.8,39,26.2,39.5,26.5,40.3,28,40.4,29,40.9,29.2,41.2,31.2,41.1,33.5,42,35.2,42,37,41.2,39.5,41,41.5,41.5,41.6,42.6,40,43.4,38.5,44.4,37.5,44.7,38.2,46.2,39,47.2,37.5,47,35,46.3,35.5,45.3,34.5,44.5,33.5,44.6,32.5,45.4,33.6,46,31.7,46.6,30.8,46.5,30,45.3,29.6,45,28.7,44.3,28,43.3,27.9,42.2,28.1,41.6,28,41.3,26.3,40.9,25,40.9,23.8,40.7,22.8,40.5,23.3,39.9,22.9,39.4,23.3,38.9,24,38.2,23.2,37.9,22.7,36.5,21.7,36.9,21.1,37.8,21.7,38.3,21,38.6,20.2,39.5,19.5,40.3,19.3,41.8,18.5,42.5,17.5,43,16,43.5,15,44.4,14,45,13.6,45.7,12.4,45.4,12.2,44.6,12.6,44,13.8,43,14.7,42.2,16,41.9,16.2,41.4,17.5,40.7,18.5,40.1,17,39.4,16.6,38.9,16.1,38,15.6,38,15.9,39.4,15.4,40.2,14.3,40.6,13.4,41.3,12.5,41.7,11.1,42.4,10.5,43,10.2,43.9,8.8,44.4,7.6,43.8,6.2,43.1,4.8,43.4,3.1,43.1,3.2,41.9,2,41.3,0.9,41,0.1,39.9,-0.3,39.4,0.2,38.7,-0.7,37.6,-1.5,37.5,-2.2,36.7,-4.4,36.7,-5.3,36.1],
[-5.7,50,1.5,51,1.7,52.7,0,53.5,-0.5,54.5,-2,55.8,-2,57.7,-4,58.6,-5,58.6,-6.2,56.8,-5.6,55.3,-3.2,54.6,-3,53.4,-4.5,52.9,-4.2,51.7],
[-6,52.2,-6.2,54,-7.5,55.3,-10,54,-10,51.8,-8,51.6],
[130.9,34,133,35.5,136,36,137,37.5,139.5,38.5,140,40.5,141.5,41.5,142,39.5,141,38,140.8,35.7,139.7,35,137,34.5,135,33.5,132.5,34],
[129.8,33.5,131.9,33.9,131.3,31.4,130.2,31.2],
[132.5,33.9,134.7,34.2,134.3,33.3,133,32.8],
[140,41.5,141.3,43.3,141.8,45.5,145.5,44,143.5,42,141,41.8],
[142,46,143.5,46.5,143,50,143,54,142.5,54.2,142,51],
[120.2,22.5,120.1,23.5,121.5,25.3,122,24.5,120.8,21.9],
[108.7,19,110,20.1,111,19.6,110,18.2],
[79.9,6,80,9.6,81.3,8.5,81.8,7,81,6],
[11,78.5,16,76.6,21,77.5,27,80,18,80.5,11,79.8],
[52,71.5,56,74,60,76,68,77,62,75,57,73,56,70.6],
[96,78,104,78.5,100,80,95,80],
[138,75,146,75,142,76],
[50,80,58,80.5,62,81,55,81.5,48,81],
[-180,68.9,-175,67.3,-171.5,66.7,-169.7,66,-171,65.5,-172.5,64.4,-175,65,-178,65.3,-180,65],
[9.4,43,9.6,42,9.2,41.4,8.6,41.9],
[9.8,41.1,9.7,39.2,9,39,8.4,39,8.2,40.8],
[12.4,38.1,15.6,38.3,15.1,36.7,12.4,37.6],
[23.5,35.6,26.3,35.3,24,34.9],
[32.3,35,34.6,35.7,33.9,34.9,32.4,34.7]
],
ID:[
[95.3,5.5,97.5,5.2,100.3,2.2,104,-1,106,-3.2,105.8,-5.8,104.5,-5.8,102,-4,100.5,-1,98.8,1.7],
[105.2,-6.8,106,-6,108.5,-6.5,111,-6.5,112.8,-7,114.5,-7.8,114.5,-8.7,111,-8.2,108,-7.8],
[109,1.5,109.6,-1,110.2,-3,114.5,-4,116.2,-3.5,116.5,-1.5,117.8,0.8,118.9,1,117.9,4.2,119.2,5.3,117,7,116,6,115,5,113,3.2,111,1.6,109.5,1.9],
[119.5,-5.5,120.4,-5.5,120.5,-2.8,121.5,-4.7,123,-5.5,122.2,-3.2,123.3,-0.9,121.3,-1.2,120.5,0.5,123,0.5,125,1.5,124.4,0.4,120.2,0.5,119.8,-0.6,119,-3.5],
[131,-1,134,-0.8,136,-1.8,138,-1.6,141,-2.6,145,-4.3,146,-5.5,148,-8,150,-10.4,147.5,-10.1,146,-8.5,143.5,-9,142.5,-9.3,141,-9,139,-8,138,-8.4,137.8,-5.5,135,-4.3,133.5,-3.8,132,-2.8],
[120,18.5,122.2,18.5,122,16,124,13.7,121.5,13.8,120.6,14.5,120,16],
[122,7,123.5,8,125.5,9.7,126.6,7,125.5,5.7,124,6.5],
[122,11.8,124,12.5,125.5,12,125,10,123.5,9.5,122,10.5],
[117.2,8.4,119.5,10.5,119.7,11.3,118,9.5],
[124,-10.1,127.2,-8.5,125,-8.8,123.5,-10.3],
[119.8,-8.4,123,-8.3,122.8,-8.8,119.9,-8.8],
[115.8,-8.3,119,-8.4,118.9,-8.8,116,-8.9],
[127.5,1.9,128.7,1.2,128,0.3,128.7,-0.8,127.4,-0.4,127.9,1],
[128,-3.2,130.8,-3.4,130.5,-3.9,128.3,-3.6],
[148.5,-5.5,150.5,-5,152,-4.2,152,-5.3,150,-6.2],
[150.6,-2.6,152.5,-4.2,153,-4.7,151,-3.2],
[155,-6.2,156,-6.8,157,-8,156,-7.5],
[159,-8.5,160.5,-9.5,161,-10,160,-10],
[177.3,-17.5,178.5,-17.4,178.6,-18.2,177.3,-18.1]
],
AU:[
[113.5,-22,114,-26.5,115,-30,115,-34,117.5,-35,120,-34,123.5,-34,126,-32.3,129,-31.6,131.2,-31.5,134,-32.5,135.5,-34.8,137.5,-33,138,-35.6,139.5,-35.8,140,-38,143.5,-38.8,146.3,-39,147.8,-37.8,150,-37.5,151,-34.2,152.7,-32,153.5,-28.5,153,-25.2,150.8,-22.5,148.8,-20.4,146.4,-19,145.5,-16,145.3,-14.8,143.5,-14,142.5,-10.7,141.6,-13,141.5,-16.5,140.6,-17.5,139,-17,137,-15.9,135.5,-15,136.8,-12.2,135,-12.2,132.5,-11.5,131,-12.2,129.5,-14.8,127.5,-14.2,125.5,-14.5,124,-16.5,122.3,-17.5,121,-19.6,117,-20.6,114.5,-21.8],
[144.7,-40.7,148.3,-40.9,148,-43,146.8,-43.6,145.2,-42.3],
[172.7,-34.5,174.5,-36,175.5,-37,178.5,-37.7,177,-39.2,176,-41.3,174.6,-41.3,175.2,-40,173.8,-39.2,174.5,-37.5],
[172.7,-40.5,174.3,-41.7,173,-43.8,171.3,-44.4,170.6,-45.9,169,-46.7,166.5,-46,168,-44,170.5,-43,172,-41.5],
[164,-20.3,167,-22.3,166.6,-22.4,164,-20.8],
[69,-48.8,70.5,-49,70,-49.7,68.8,-49.5]
]
};
var ANc=pairs([-180,-78.3,-170,-78.2,-160,-78,-155,-77,-150,-76.8,-145,-75.5,-140,-75,-135,-74.5,-130,-74.3,-125,-73.8,-120,-74,-115,-74.3,-110,-74.8,-105,-74.5,-100,-73.5,-95,-73.3,-90,-73,-85,-73.4,-80,-73.5,-77,-72.8,-74,-71.5,-71,-70.5,-68.5,-69,-67.5,-67,-66,-65.8,-64,-64.7,-61,-63.8,-57.5,-63.3,-58,-64.2,-60,-64.5,-61.5,-66,-63,-67.5,-64,-69,-62,-70.5,-61.5,-72.5,-62,-74,-61,-75,-60,-76,-55,-77.5,-50,-78,-43,-78,-36,-78,-30,-77,-25,-76,-18,-73.5,-12,-72.2,-5,-71.3,0,-70.5,5,-70.2,10,-70,15,-70.2,20,-70,25,-70.2,30,-69.7,35,-69.5,40,-69,45,-68,50,-67,55,-66.2,60,-67,65,-67.5,69,-69,72,-69.8,75,-69.5,78,-68.5,82,-67,86,-66.7,90,-66.5,95,-66.2,100,-65.8,105,-66,110,-66.2,115,-66.8,120,-66.8,125,-66.3,130,-66.1,135,-66.2,140,-66.6,145,-67.5,150,-68.5,155,-69,160,-70,163,-70.6,166,-71.3,170,-72,170.5,-73.5,168,-75,164,-76.5,166,-77.8,170,-78.3,175,-78.5,180,-78.3]);
var caspian=pairs([47,44.5,50,46.5,53,47,53.5,45,51,44.5,51.5,42,53,41,54,38,53.5,37,51,36.8,49,38,49.5,40.5,47.5,42.5]);

var defs=document.getElementById('defs');
var coastD='',ids=[];
for(var k in L){var d='';L[k].forEach(function(f){d+=pstr(pairs(f),true);});defs.insertAdjacentHTML('beforeend','<path id="L_'+k+'" d="'+d+'"/>');ids.push(k);coastD+=d;}
var anFill=ANc.concat([[180,-80],[180,-84],[180,-88],[180,-90],[-180,-90],[-180,-88],[-180,-84],[-180,-80]]);
defs.insertAdjacentHTML('beforeend','<path id="L_AN" d="'+pstr(anFill,true)+'"/>');ids.push('AN');
coastD+=pstr(ANc,false)+pstr(caspian,true);
defs.insertAdjacentHTML('beforeend','<path id="coast" d="'+coastD+'" fill="none" stroke="#000" stroke-width="1.3" stroke-linejoin="round"/>');
var cl='<clipPath id="landclip" clipPathUnits="userSpaceOnUse">';ids.forEach(function(k){cl+='<use href="#L_'+k+'" xlink:href="#L_'+k+'"/>';});cl+='</clipPath>';
defs.insertAdjacentHTML('beforeend',cl);

function blob(b){var lon=b[0],lat=b[1],w=b[2],h=b[3];var c=P(lon,lat),l=P(lon-w,lat),r=P(lon+w,lat),t=P(lon,Math.min(89.5,lat+h)),bt=P(lon,Math.max(-89.5,lat-h));
return '<ellipse cx="'+c[0].toFixed(1)+'" cy="'+((t[1]+bt[1])/2).toFixed(1)+'" rx="'+Math.max(1,(r[0]-l[0])/2).toFixed(1)+'" ry="'+Math.max(1,(bt[1]-t[1])/2).toFixed(1)+'" fill="'+b[4]+'" opacity="'+b[5]+'"/>';}
function boxes(arr){var s='';(arr||[]).forEach(function(b){s+='<path d="'+pstr(box(b[0],b[1],b[2],b[3]),true)+'" fill="'+b[4]+'" opacity="'+b[5]+'"/>';});return s;}

var BLUE='#5150a0';
var capsBlue=[[-180,180,85,90,BLUE,1],[-180,180,-90,-85,BLUE,1]];
var capsWhite=[[-180,180,86.5,90,'#ffffff',1],[-180,180,-90,-86.5,'#ffffff',1]];

var lw1=[[-42,72,16,10,'#86cba5',1],[-100,62,30,10,'#c2e5a1',0.9],[-112,42,8,10,'#b9e2a3',0.9],[-95,35,15,8,'#eef7a8',0.7],[-70,-22,3,14,'#9ad4a4',0.9],[-60,-5,14,9,'#fbe7a6',0.8],[10,22,22,10,'#eef7aa',0.8],[25,-5,14,12,'#f5f9b0',0.6],[38,6,5,6,'#d9f0a0',0.8],[90,33,16,6,'#8dcfa5',1],[80,40,12,5,'#bfe5a2',0.8],[100,62,45,10,'#c2e5a1',0.9],[40,58,20,8,'#d5ee9f',0.8],[55,33,8,5,'#e0f2a2',0.8],[134,-25,16,10,'#f6f9b2',0.7],[20,-22,8,8,'#edf7a8',0.7]];
var lw2=[[-42,72,16,10,'#78c5a6',1],[-100,62,30,10,'#b2dea3',0.9],[-112,42,8,10,'#a8dba4',0.9],[-70,-22,3,14,'#8ccfa5',0.9],[-60,-5,14,9,'#fdf0ad',0.8],[10,22,22,10,'#e9f6a6',0.8],[38,6,5,6,'#cbe9a0',0.8],[90,33,16,6,'#73c2a6',1],[80,40,12,5,'#b2dea3',0.8],[100,62,45,10,'#b2dea3',0.8],[40,58,20,8,'#c8e8a1',0.8],[55,33,8,5,'#cfeb9f',0.8],[134,-25,16,10,'#eff8ab',0.7]];
var sw1=[[15,20,26,11,'#f48a51',0.9],[25,20,11,7,'#ef7447',0.9],[0,20,8,5,'#f38350',0.8],[45,22,10,8,'#f4864f',0.9],[-110,34,12,7,'#f8a460',0.9],[-100,25,5,5,'#f9ab63',0.8],[20,2,14,8,'#fcc57b',0.9],[24,-20,10,9,'#f7a05d',0.9],[133,-25,17,10,'#f8a45f',0.9],[-68,-20,2.5,10,'#ef6f48',0.9],[-60,-5,12,8,'#fde2a0',0.8],[-50,-15,8,8,'#fbc27a',0.8],[20,52,18,8,'#d9efa0',0.8],[100,62,45,10,'#addca3',0.8],[-100,58,25,10,'#b5e0a3',0.8],[90,33,14,6,'#e4f3a4',0.8],[110,28,8,6,'#eaf6a8',0.8],[60,38,10,6,'#fbc076',0.8],[-42,72,14,10,'#e0f2a2',0.9]];
var sw2=[[15,20,26,11,'#f8a25e',0.9],[25,20,11,7,'#f6965a',0.8],[45,22,10,8,'#f79e5c',0.9],[-110,34,12,7,'#f9b068',0.9],[20,2,14,8,'#fccb80',0.9],[24,-20,10,9,'#f9ab64',0.9],[133,-25,17,10,'#f9ab64',0.9],[-68,-20,2.5,10,'#f3844f',0.9],[-60,-5,12,8,'#fde6a4',0.8],[20,52,18,8,'#ddf1a0',0.8],[100,62,45,10,'#b2dea3',0.8],[-100,58,25,10,'#b8e1a3',0.8],[90,33,14,6,'#e6f4a5',0.8],[60,38,10,6,'#fcc67c',0.8],[-42,72,14,10,'#dcf0a0',0.9]];
var sc1=[[12,22,22,10,'#f1804c',0.9],[45,22,10,8,'#f2834e',0.9],[90,33,15,6,'#f07b4b',0.95],[-110,36,10,8,'#f8a05d',0.8],[-68,-20,2.5,10,'#ec6d46',0.9],[-60,-8,12,8,'#f8a15e',0.7],[20,0,14,10,'#f79958',0.7],[133,-25,17,10,'#f89c5a',0.7],[100,60,45,10,'#fde3a0',0.7],[-100,60,25,10,'#fde5a2',0.7],[-42,72,14,10,'#fbeeac',0.8]];
var sc2=[[12,22,22,10,'#f69d5b',0.9],[45,22,10,8,'#f59a5a',0.9],[90,33,15,6,'#f4894f',0.95],[-110,36,10,8,'#f9a762',0.8],[-68,-20,2.5,10,'#f07a4a',0.9],[-60,-8,12,8,'#f9a862',0.7],[133,-25,17,10,'#f9a35e',0.7],[100,60,45,10,'#fde5a2',0.7],[-100,60,25,10,'#fde7a4',0.7],[-42,72,14,10,'#fbefad',0.8]];
var d1=[[-115,50,12,15,'#94d1a5',0.9],[-110,40,4,8,'#5fa6b0',0.8],[-120,55,3,8,'#4f8fba',0.6],[-85,40,12,8,'#e3f3a3',0.8],[-100,63,20,8,'#c9e9a1',0.8],[-72,-20,2,20,'#3f78b6',0.9],[-69,-18,1.5,18,'#d7464f',0.9],[-60,-8,12,10,'#b8e1a3',0.9],[10,20,22,10,'#c7e8a1',0.8],[25,0,12,10,'#a9dba4',0.9],[37,5,3,10,'#4c88bb',0.8],[36,-12,2,8,'#3f78b6',0.7],[30,-28,5,3,'#d74750',0.8],[85,33,18,6,'#6aabb5',0.9],[82,29,10,2,'#3b5fa8',0.9],[78,35,4,2,'#d5434f',0.8],[100,55,30,12,'#b9e2a3',0.8],[60,40,12,6,'#a7daa4',0.8],[45,38,6,4,'#5c9fb3',0.7],[134,-25,15,10,'#cfeb9f',0.8],[-42,72,12,8,'#eef7ab',0.8],[20,50,12,6,'#d4eda0',0.8],[120,-3,10,8,'#8fd0a5',0.7]];
var d3=[[-100,45,15,10,'#9ad4a5',0.8],[-80,40,8,6,'#c9e8a2',0.7],[-60,-10,12,10,'#8ccfa6',0.8],[-70,-20,1.5,15,'#3f6fb3',0.9],[-68,-22,1.5,12,'#d54450',0.8],[5,17,20,8,'#8fd0a5',0.9],[20,3,12,8,'#6ab8a9',0.9],[12,-2,3,4,'#3d64ab',0.8],[30,-3,3,4,'#6a5aa6',0.8],[45,23,8,8,'#8ccfa6',0.9],[85,35,20,8,'#7cb9b2',0.9],[95,36,10,4,'#4a6fb0',0.8],[105,30,6,6,'#5a87b7',0.8],[100,55,30,10,'#c5e7a1',0.8],[20,-22,8,8,'#b0dea3',0.8],[47,-19,3,7,'#4a6fb0',0.8],[134,-25,15,10,'#d0eca0',0.8],[-42,72,12,8,'#fbe3a2',0.7]];
var d4=[[5,15,20,8,'#9ad4a5',0.9],[0,12,14,6,'#8ccfa6',0.9],[18,3,10,8,'#6cbba9',1],[16,-2,4,4,'#5aa0b5',0.9],[-5,10,10,4,'#8ccfa6',0.9],[45,22,8,8,'#a0d7a4',0.9],[43,25,2,2,'#4477b6',0.7],[78,22,8,8,'#a5d9a4',0.9],[112,30,8,8,'#6aa9bb',1],[110,33,4,4,'#4d78b6',0.8],[95,33,12,5,'#b0dea3',0.8],[88,36,4,2,'#ef9e6a',0.6],[-60,-8,12,10,'#9bd5a4',0.9],[-67,-20,1.5,8,'#f29d6b',0.7],[28,-15,10,6,'#c3e6a1',0.8],[-42,72,12,8,'#fbdca2',0.6],[-100,40,15,8,'#eef7ac',0.6]];

var S={
'11':{land:lw1,an:'#86cba5',edge:BLUE,boxes:[[0,55,-90,-73,'#7ec9a6',1],[-180,0,-90,-86,'#4f6fb0',0.9],[0,8,78,90,'#9fd6a4',0.8]].concat(capsBlue)},
'12':{land:lw1,an:'#80c9a5',boxes:[[0,55,-90,-80,'#86cba5',1],[0,55,-80,-76,'#a8dba4',1]].concat(capsWhite)},
'13':{fill:'#d3eda0',land:d1,an:'#e8f5a6',edge:BLUE,ocean:[[-30,-58,30,5,'#fbd9a0',0.8],[60,-58,25,5,'#fbdca2',0.6]],boxes:[[0,60,-86,-83,'#f9c27c',1],[0,60,-83,-80,'#6cc0a7',1],[0,60,-88,-86,'#3c72b3',1],[-180,180,-90,-88,'#ffffff',1]]},
'21':{land:lw2,an:'#72c1a6',edge:BLUE,boxes:[[0,55,-90,-74,'#66b7a9',1],[-180,0,-90,-86,'#4f6fb0',0.9]].concat(capsBlue)},
'22':{land:lw2,an:'#74c2a6',boxes:[[0,55,-90,-80,'#79c6a6',1],[0,55,-80,-77,'#9fd6a4',1]].concat(capsWhite)},
'23':{fill:'#d3eda0',land:d1,an:'#e8f5a6',edge:BLUE,ocean:[[-140,-25,30,12,'#e0f2a2',0.7],[-100,10,20,5,'#eaf6a6',0.6],[-170,-50,10,10,'#dff1a2',0.6]],boxes:[[0,60,-86,-82,'#7ac6a6',1],[-180,180,-90,-88,'#ffffff',1]]},
'31':{land:sw1,an:'#eff8ab',edge:BLUE,ocean:[[160,45,15,8,'#a8dba4',0.5],[-25,55,15,6,'#9ed6a4',0.5]],boxes:[[0,55,-88,-80,'#c8e8a1',0.9]].concat(capsBlue)},
'32':{land:sw2,an:'#eff8ab',ocean:[[160,45,15,8,'#a8dba4',0.4]],boxes:[[0,55,-88,-80,'#d4eda0',0.9]].concat(capsWhite)},
'33':{fill:'#a8dba4',land:d3,an:'#f3f6b0',edge:BLUE,ocean:[[-135,28,18,10,'#ee8d5e',0.9],[-140,40,10,8,'#f3a36c',0.7],[-95,-22,20,12,'#f29e6a',0.85],[-75,-10,8,8,'#f39c69',0.7],[-5,-15,14,8,'#f3a26c',0.85],[105,-30,20,10,'#f6ad73',0.8],[75,-30,15,8,'#f7b77a',0.6],[-155,-45,25,8,'#f29a68',0.8],[165,-42,18,7,'#f4a86f',0.7],[-150,5,25,5,'#c6e7a2',0.7],[172,-3,10,4,'#5f8cc0',0.9],[150,3,10,4,'#a5d9a4',0.7],[70,-5,12,5,'#b5e0a3',0.7],[-30,5,15,4,'#c3e6a1',0.6],[-175,-20,12,10,'#b5e0a3',0.6],[-40,40,15,8,'#f8c486',0.6],[170,35,15,8,'#f7c386',0.6]],boxes:[[-80,60,80,84,'#f2a56c',1],[-80,60,-86,-82,'#f2c88a',0.9]]},
'41':{land:sc1,an:'#fddb97',edge:BLUE,boxes:[[0,55,-88,-80,'#fce3a0',0.9]].concat(capsBlue)},
'42':{land:sc2,an:'#fddf9c',boxes:[[0,55,-88,-80,'#fde6a4',0.9]].concat(capsWhite)},
'43':{fill:'#e3f3a3',land:d4,an:'#f0f6ae',edge:BLUE,ocean:[[-20,5,15,4,'#d2eca0',0.8],[-50,65,20,10,'#fbd9a0',0.6]],boxes:[[-75,60,80,82,'#f3a76c',1],[-40,90,-85,-83,'#f5b072',1],[-40,90,-83,-80,'#c7e8a2',0.8],[-40,60,-76,-72,'#e5f3a8',0.8]]}
};

for(var id in S){
 var s=S[id],h='';
 if(s.ocean){h+='<g filter="url(#b2)">';s.ocean.forEach(function(b){h+=blob(b);});h+='</g>';}
 if(s.fill){['NA','GL','SA','AF','EU','ID','AU'].forEach(function(k){h+='<use href="#L_'+k+'" xlink:href="#L_'+k+'" fill="'+s.fill+'"/>';});}
 if(s.an){h+='<use href="#L_AN" xlink:href="#L_AN" fill="'+s.an+'"/>';}
 if(s.land){h+='<g clip-path="url(#landclip)"><g filter="url(#b1)">';s.land.forEach(function(b){h+=blob(b);});h+='</g></g>';}
 h+=boxes(s.boxes);
 if(s.edge){h+='<ellipse rx="336" ry="168" fill="none" stroke="'+s.edge+'" stroke-width="3"/>';}
 document.getElementById('d'+id).innerHTML=h;
 document.getElementById('c'+id).innerHTML='<use href="#coast" xlink:href="#coast"/>';
}
})();
</script>
</body></html>
